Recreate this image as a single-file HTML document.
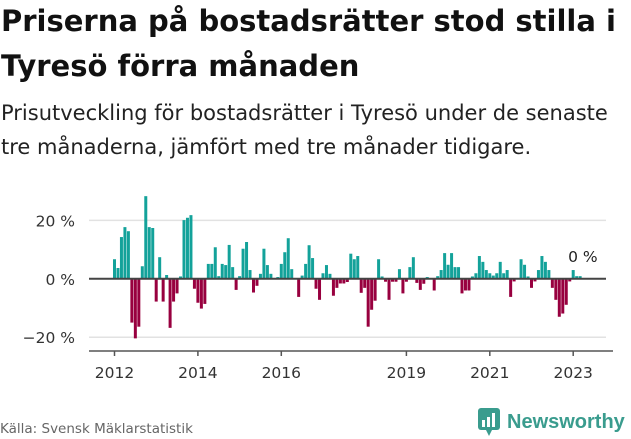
<!DOCTYPE html>
<html><head><meta charset="utf-8"><style>
body{margin:0;width:631px;height:439px;background:#fff;overflow:hidden;font-family:"DejaVu Sans","Liberation Sans",sans-serif;position:relative}
h1{position:absolute;left:1px;top:-1px;margin:0;font-size:29px;line-height:45px;font-weight:bold;color:#111;white-space:nowrap;letter-spacing:0px}
p{position:absolute;left:1px;top:96px;margin:0;font-size:21px;line-height:34px;color:#222;white-space:nowrap;letter-spacing:0px}
</style></head><body>
<h1>Priserna på bostadsrätter stod stilla i<br>Tyresö förra månaden</h1>
<p>Prisutveckling för bostadsrätter i Tyresö under de senaste<br>tre månaderna, jämfört med tre månader tidigare.</p>
<svg id="chart" width="631" height="439" style="position:absolute;left:0;top:0" font-family="DejaVu Sans, Liberation Sans, sans-serif"></svg>
<div style="position:absolute;left:0;top:421px;font-size:13.5px;color:#666">Källa: Svensk Mäklarstatistik</div>
<div style="position:absolute;left:478px;top:407px;height:30px;display:flex;align-items:center">
<svg width="22" height="28" viewBox="0 0 22 28"><rect x="0" y="0" width="22" height="22" rx="3" fill="#3a9c8e"/><polygon points="8,22 14,22 11,28" fill="#3a9c8e"/><rect x="4" y="12" width="3" height="7" fill="#fff"/><rect x="9" y="9" width="3" height="10" fill="#fff"/><rect x="14" y="5" width="3" height="14" fill="#fff"/></svg>
<span style="margin-left:7px;font-size:20px;color:#3a9c8e;font-weight:bold;font-family:'Liberation Sans',sans-serif">Newsworthy</span></div>
<script>
const startYear = 2012;
const values = [6.7,3.7,14.3,17.7,16.3,-15,-20.4,-16.4,4.3,28.3,17.7,17.4,-7.8,7.4,-7.8,1.3,-16.8,-7.8,-5,0.8,20.1,20.9,21.8,-3.4,-8.2,-10.2,-8.6,5.1,5.1,10.8,0.9,5.1,4.7,11.6,4,-3.8,0.9,10.3,12.6,3,-4.7,-2.4,1.7,10.3,
4.7,1.7,0.2,0.6,5.1,9.1,13.9,3.3,0,-6.2,1.1,5.1,11.5,7.1,-3.4,-7.2,1.9,4.7,1.7,-5.8,-3.1,-1.6,-1.6,-1.1,8.6,6.7,7.8,-4.8,-3.1,-16.4,-10.6,-7.5,6.7,0.8,-1,-7.2,-1,-1,3.3,-5,-1,4,7.4,-1.4,-3.8,-1.7,0.6,0,-4,
0.9,3,8.8,4.8,8.8,4,4,-5,-4,-4,0.8,1.9,7.8,5.8,3,1.9,1.1,1.9,5.8,1.9,3,-6.2,-0.9,0,6.7,4.8,0.8,-3.1,-0.9,3,7.8,5.8,3,-3.1,-7.2,-13,-11.9,-8.9,-0.9,3,0.9,0.9];
const yTicks = [20,0,-20];
const yTickLabels = ["20 %","0 %","\u221220 %"];
const xTicks = [2012,2014,2016,2019,2021,2023];
const lastLabel = "0 %";
const NS="http://www.w3.org/2000/svg";
const svg=document.getElementById('chart');
const x=t=>114.5+(t-2012)*41.7;
const y=v=>278.8-v*2.92;
function mk(tag,a){const e=document.createElementNS(NS,tag);for(const k in a)e.setAttribute(k,a[k]);svg.appendChild(e);return e;}
yTicks.forEach((v,i)=>{
 if(v!==0){const g=mk('line',{x1:89,x2:606,y1:y(v),y2:y(v),stroke:'#e2e2e2','stroke-width':1.5});
 
 }
 const t=mk('text',{x:75,y:y(v)+6,'text-anchor':'end','font-size':15.5,fill:'#333'});t.textContent=yTickLabels[i];
 
 
});
values.forEach((v,i)=>{
 const t=startYear+i/12;
 const r=mk('rect',{x:x(t)-1.5,width:3,y:Math.min(y(v),y(0)),height:Math.abs(y(v)-y(0)),fill:v>=0?'#13a29a':'#98003f'});
 
 
});
const z=mk('line',{x1:89,x2:606,y1:y(0),y2:y(0),stroke:'#444','stroke-width':2});


const ax=mk('line',{x1:89,x2:613,y1:351,y2:351,stroke:'#555','stroke-width':1.5});


xTicks.forEach(yr=>{
 const tk=mk('line',{x1:x(yr),x2:x(yr),y1:351,y2:356,stroke:'#555','stroke-width':1.5});
 
 
 const t=mk('text',{x:x(yr),y:378,'text-anchor':'middle','font-size':15.5,fill:'#333'});t.textContent=yr;
 
 
});
const li=values.length-1;
const lt=mk('text',{x:x(startYear+li/12)-12,y:262,'font-size':15.5,fill:'#222'});lt.textContent=lastLabel;


</script>
</body></html>
